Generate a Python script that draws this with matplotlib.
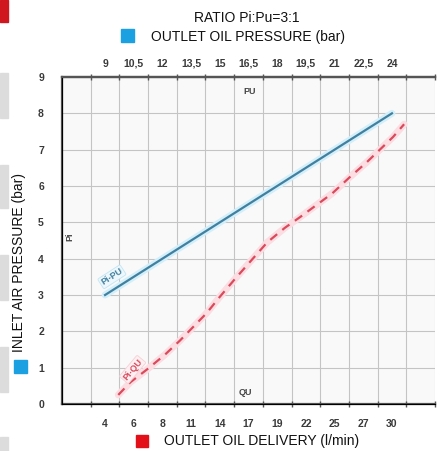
import matplotlib
matplotlib.use('Agg')
import matplotlib.pyplot as plt
import matplotlib.patches as mpatches

plt.rcParams['font.family'] = ['Liberation Sans', 'DejaVu Sans']

# ---- data ----
# inlet air pressure vs outlet oil pressure (ratio 3:1)
pu_bar = [9, 24]
pi_pu = [3, 8]

# inlet air pressure vs outlet oil delivery
qu_lmin = [5.2, 6.3, 7.8, 9.4, 10.8, 13.2, 14.4, 15.8, 17.1, 18.7, 20.3, 21.7,
           24.6, 26.2, 27.7, 30.1, 31.1]
pi_qu = [0.25, 0.6, 0.95, 1.35, 1.75, 2.5, 2.95, 3.45, 3.9, 4.45, 4.85, 5.15,
         5.8, 6.25, 6.65, 7.35, 7.7]

qu_labels = ['4', '6', '8', '11', '14', '17', '19', '22', '25', '27', '30']
pu_labels = ['9', '10,5', '12', '13,5', '15', '16,5', '18', '19,5', '21', '22,5', '24']
pi_ticks = list(range(0, 10))

# axis scales (label slots are spaced evenly on the original sheet)
QU_STEP, QU_FIRST = 2.6, 4.0
PU_STEP, PU_FIRST = 1.5, 9.0
N_SLOTS = 13

W, H = 446, 451
fig = plt.figure(figsize=(W / 100, H / 100), dpi=100)
ax = fig.add_axes([62 / W, 1 - 404 / H, (435 - 62) / W, (404 - 77) / H])
ax.set_facecolor('#f9f9f9')

qu0 = QU_FIRST - 1.5 * QU_STEP
pu0 = PU_FIRST - 1.5 * PU_STEP
ax.set_xlim(qu0, qu0 + N_SLOTS * QU_STEP)
ax.set_ylim(0, 9)

spine_col = '#555555'
tick_font = dict(fontsize=7.5, fontweight='bold', color='#3a3a3a')

# bottom axis
ax.set_xticks([QU_FIRST + i * QU_STEP for i in range(len(qu_labels))])
ax.set_xticklabels(qu_labels, **tick_font)
ax.set_xticks([qu0 + k * QU_STEP for k in range(1, N_SLOTS + 1)], minor=True)
ax.tick_params(axis='x', which='major', length=0, pad=11)
ax.tick_params(axis='x', which='minor', length=4, direction='inout', color=spine_col, width=1)
ax.set_yticks(pi_ticks)
ax.set_yticklabels([str(v) for v in pi_ticks], **tick_font)
ax.tick_params(axis='y', length=0, pad=13)

ax.grid(True, which='minor', axis='x', color='#c4c4c4', lw=0.8)
ax.grid(True, which='major', axis='y', color='#c4c4c4', lw=0.8)
ax.spines['right'].set_visible(False)
for s in ['left', 'bottom', 'top']:
    ax.spines[s].set_color(spine_col)
    ax.spines[s].set_linewidth(1.6)
ax.set_axisbelow(True)

# top axis in bar
ax2 = ax.twiny()
ax2.set_xlim(pu0, pu0 + N_SLOTS * PU_STEP)
ax2.set_xticks([PU_FIRST + i * PU_STEP for i in range(len(pu_labels))])
ax2.set_xticklabels(pu_labels, **tick_font)
ax2.set_xticks([pu0 + k * PU_STEP for k in range(1, N_SLOTS + 1)], minor=True)
ax2.tick_params(axis='x', which='major', length=0, pad=6)
ax2.tick_params(axis='x', which='minor', length=4, direction='inout', color=spine_col, width=1)
ax2.spines['right'].set_visible(False)
ax2.spines['top'].set_color(spine_col)
ax2.spines['top'].set_linewidth(1.6)

# curves
blue = '#41809f'
red = '#d94a5c'
ax2.plot(pu_bar, pi_pu, color='#d3eff9', lw=5, solid_capstyle='round', zorder=2)
ax2.plot(pu_bar, pi_pu, color=blue, lw=1.6, zorder=3)
ax.plot(qu_lmin, pi_qu, color='#fbdde2', lw=5, solid_capstyle='round', zorder=2)
ax.plot(qu_lmin, pi_qu, color=red, lw=1.6, ls=(0, (4, 3)), zorder=3)

ax2.text(9.36, 3.5, 'Pi-PU', color=blue, fontsize=6.5, fontweight='bold', rotation=33,
         ha='center', va='center', zorder=4,
         bbox=dict(boxstyle='round,pad=0.15', fc='#eef8fc', ec='#bfe6f5', lw=0.6))
ax.text(6.5, 0.95, 'Pi-QU', color=red, fontsize=6.5, fontweight='bold', rotation=50,
        ha='center', va='center', zorder=4,
        bbox=dict(boxstyle='round,pad=0.15', fc='#fdf0f2', ec='#f6cfd6', lw=0.6))

inner = dict(fontsize=6.5, fontweight='bold', color='#444444', ha='center', va='center')
ax.text(17.1, 8.6, 'PU', **inner)
ax.text(16.7, 0.33, 'QU', **inner)
ax.text(0.8, 4.6, 'Pi', rotation=90, **inner)

# titles and axis names
txt = dict(fontsize=10, ha='center', va='center', color='#111111')
fig.text(247 / W, 1 - 18 / H, 'RATIO Pi:Pu=3:1', **txt)
fig.text(248 / W, 1 - 37 / H, 'OUTLET OIL PRESSURE (bar)', **txt)
fig.text(262 / W, 1 - 441 / H, 'OUTLET OIL DELIVERY (l/min)', **txt)
fig.text(19 / W, 1 - 262 / H, 'INLET AIR PRESSURE (bar)', rotation=90, **txt)

def px_rect(x, y, w, h, color):
    fig.patches.append(mpatches.Rectangle((x / W, 1 - (y + h) / H), w / W, h / H,
                                          transform=fig.transFigure, color=color, zorder=0))

px_rect(121, 29, 13, 13, '#1ba1e2')
px_rect(136, 435, 12, 12, '#e3101a')
px_rect(14, 360, 13, 13, '#1ba1e2')

# page decorations at the left edge
px_rect(0, 0, 8, 22, '#d0171f')
for top, bot in [(73, 118), (165, 208), (255, 300), (347, 392), (437, 451)]:
    px_rect(0, top, 8, bot - top, '#dcdcdc')

fig.savefig('out.png', dpi=100)
